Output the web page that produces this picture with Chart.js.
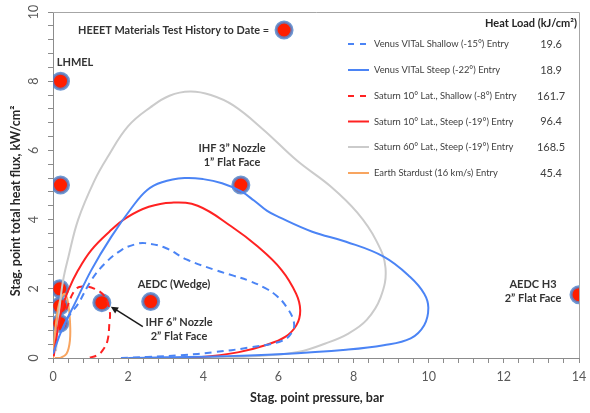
<!DOCTYPE html>
<html lang="en">
<head>
<meta charset="UTF-8" />
<title>HEEET Materials Test History</title>
<script src="https://cdn.jsdelivr.net/npm/chart.js"></script>
<style>
  html, body { margin: 0; padding: 0; background: #fff; }
  #wrap { width: 590px; height: 413px; }
</style>
</head>
<body>
<div id="wrap"><canvas id="chart" width="590" height="413"></canvas></div>
<script>
// trajectories, stag. point pressure (bar) vs total heat flux (kW/cm2)
const venusShallowX = [0.25, 0.41, 0.67, 1.02, 1.38, 1.82, 2.17, 2.45, 3.0, 3.55, 4.3, 4.8, 5.2, 5.65, 5.95, 6.2, 6.4, 6.38, 6.1, 5.2, 4.3, 3.4, 2.5, 1.8];
const venusShallowY = [0.8, 1.19, 1.57, 2.25, 2.73, 3.12, 3.28, 3.32, 3.18, 2.85, 2.55, 2.38, 2.24, 2.02, 1.8, 1.5, 1.09, 0.78, 0.5, 0.3, 0.17, 0.08, 0.03, 0.0];

const venusSteepX = [0.0, 0.23, 0.58, 1.02, 1.55, 2.1, 2.5, 2.9, 3.5, 4.0, 4.5, 5.0, 5.35, 5.7, 6.0, 6.9, 7.8, 8.8, 9.5, 9.88, 9.99, 9.88, 9.52, 8.8, 7.8, 6.0, 4.5, 3.0, 2.0];
const venusSteepY = [0.12, 0.8, 1.57, 2.54, 3.5, 4.35, 4.85, 5.08, 5.2, 5.17, 5.05, 4.82, 4.55, 4.25, 4.08, 3.65, 3.36, 2.93, 2.35, 1.86, 1.45, 0.95, 0.57, 0.37, 0.24, 0.11, 0.05, 0.02, 0.0];

const saturnShallowX = [0.35, 0.58, 0.78, 1.11, 1.38, 1.51, 1.5, 1.45, 1.32, 1.18, 0.93];
const saturnShallowY = [1.4, 1.96, 2.07, 2.0, 1.77, 1.35, 1.0, 0.5, 0.22, 0.08, 0.0];

const saturnSteepX = [0.02, 0.1, 0.23, 0.41, 0.67, 1.02, 1.5, 1.95, 2.55, 3.15, 3.85, 4.75, 5.45, 6.08, 6.47, 6.58, 6.48, 6.18, 5.65, 4.95, 4.25, 3.5, 2.9];
const saturnSteepY = [0.05, 0.65, 1.4, 1.96, 2.54, 3.12, 3.65, 4.05, 4.37, 4.49, 4.4, 3.8, 3.22, 2.55, 1.86, 1.38, 0.95, 0.61, 0.37, 0.17, 0.06, 0.01, 0.0];

const saturn60X = [0.08, 0.17, 0.27, 0.41, 0.67, 1.1, 1.45, 2.0, 2.6, 3.1, 3.65, 4.2, 4.8, 5.6, 6.5, 7.4, 8.1, 8.6, 8.85, 8.72, 8.35, 7.85, 7.25, 6.55, 5.65, 4.6, 3.4];
const saturn60Y = [0.2, 1.4, 2.25, 2.92, 4.0, 5.12, 5.8, 6.7, 7.25, 7.58, 7.7, 7.6, 7.3, 6.6, 5.7, 4.95, 4.2, 3.4, 2.6, 1.75, 1.1, 0.7, 0.42, 0.18, 0.07, 0.02, 0.0];

const stardustX = [0.0, 0.03, 0.07, 0.13, 0.22, 0.32, 0.4, 0.45, 0.45, 0.36, 0.2, 0.05];
const stardustY = [0.0, 0.4, 0.9, 1.4, 1.75, 1.85, 1.6, 1.1, 0.5, 0.12, 0.01, 0.0];

// HEEET test conditions to date
const testX = [0.2, 0.2, 0.18, 0.18, 0.18, 1.3, 2.6, 5.0, 14.0];
const testY = [8.0, 5.0, 2.0, 1.5, 1.0, 1.6, 1.63, 5.0, 1.83];
const keyMarkerX = [6.15];
const keyMarkerY = [9.48];

const seriesNames = [
  "Venus VITaL Shallow (-15°) Entry",
  "Venus VITaL Steep (-22°) Entry",
  "Saturn 10° Lat., Shallow (-8°) Entry",
  "Saturn 10° Lat., Steep (-19°) Entry",
  "Saturn 60° Lat., Steep (-19°) Entry",
  "Earth Stardust (16 km/s) Entry"
];
const heatLoads = ["19.6", "18.9", "161.7", "96.4", "168.5", "45.4"];

const xTickLabels = [0, 2, 4, 6, 8, 10, 12, 14];
const yTickLabels = [0, 2, 4, 6, 8, 10];

const BLUE = "#4b84f5";
const RED = "#ff2222";
const GRAY = "#cbcbcb";
const ORANGE = "#f8a560";
const FONT = "Lato, 'Open Sans', sans-serif";

function pts(xs, ys) {
  return xs.map((x, i) => ({ x: x, y: ys[i] }));
}

function curve(label, xs, ys, color, dashed) {
  return {
    label: label,
    data: pts(xs, ys),
    showLine: true,
    borderColor: color,
    backgroundColor: color,
    borderWidth: 2,
    borderDash: dashed ? [7, 5] : [],
    pointRadius: 0,
    tension: 0.4,
    fill: false,
  };
}

const dotStyle = {
  showLine: false,
  pointRadius: 8,
  pointBorderWidth: 3,
  pointBackgroundColor: "#ff1e00",
  pointBorderColor: "rgba(84,134,205,0.85)",
};

// text squeezed or stretched to a given span
function fitText(ctx, text, left, right, y, weight, maxSize) {
  let size = maxSize;
  ctx.font = weight + " " + size + "px " + FONT;
  const w = ctx.measureText(text).width;
  size = Math.min(maxSize, size * (right - left) / w);
  ctx.font = weight + " " + size.toFixed(2) + "px " + FONT;
  ctx.textAlign = "left";
  ctx.fillText(text, left, y);
}

// text, arrow, frame, tick labels and legend drawn over the plot
const overlay = {
  id: "overlay",
  afterDraw(chart) {
    const { ctx, chartArea: a, scales } = chart;
    const xs = scales.x, ys = scales.y;
    ctx.save();

    // frame
    ctx.strokeStyle = "#a6a6a6";
    ctx.lineWidth = 1;
    ctx.beginPath();
    ctx.moveTo(a.left, a.top + 0.5);
    ctx.lineTo(a.right + 0.5, a.top + 0.5);
    ctx.lineTo(a.right + 0.5, a.bottom);
    ctx.stroke();

    // tick labels (y ones are turned on their side)
    ctx.fillStyle = "#595959";
    ctx.font = "12.5px " + FONT;
    ctx.textAlign = "center";
    ctx.textBaseline = "middle";
    xTickLabels.forEach((v) => {
      ctx.fillText(String(v), xs.getPixelForValue(v), a.bottom + 19);
    });
    yTickLabels.forEach((v) => {
      ctx.save();
      ctx.translate(a.left - 19, ys.getPixelForValue(v));
      ctx.rotate(-Math.PI / 2);
      ctx.fillText(String(v), 0, 0);
      ctx.restore();
    });

    // axis titles
    ctx.fillStyle = "#262626";
    ctx.font = "bold 12.5px " + FONT;
    ctx.fillText("Stag. point pressure, bar", 317, 398);
    ctx.save();
    ctx.translate(16, 201);
    ctx.rotate(-Math.PI / 2);
    ctx.fillText("Stag. point total heat flux, kW/cm²", 0, 0);
    ctx.restore();

    // annotations
    ctx.fillStyle = "#333333";
    fitText(ctx, "HEEET Materials Test History to Date =", 78, 269, 30, "bold", 16);
    ctx.font = "bold 11px " + FONT;
    ctx.textAlign = "center";
    ctx.fillText("LHMEL", 75, 62);
    ctx.fillText("IHF 3\u201D Nozzle", 232, 148);
    ctx.fillText("1\u201D Flat Face", 232, 162);
    ctx.fillText("AEDC (Wedge)", 174, 284);
    ctx.fillText("IHF 6\u201D Nozzle", 179, 322);
    ctx.fillText("2\u201D Flat Face", 179, 336);
    ctx.fillText("AEDC H3", 533, 284);
    ctx.fillText("2\u201D Flat Face", 533, 298);

    // arrow to the IHF 6" point
    const tx = xs.getPixelForValue(testX[5]) + 9;
    const ty = ys.getPixelForValue(testY[5]) + 4;
    const fx = tx + 32, fy = ty + 20;
    ctx.strokeStyle = "#1a1a1a";
    ctx.fillStyle = "#1a1a1a";
    ctx.lineWidth = 1.5;
    ctx.beginPath();
    ctx.moveTo(fx, fy);
    ctx.lineTo(tx + 5, ty + 3);
    ctx.stroke();
    const ang = Math.atan2(ty - fy, tx - fx);
    ctx.beginPath();
    ctx.moveTo(tx, ty);
    ctx.lineTo(tx - 8 * Math.cos(ang - 0.45), ty - 8 * Math.sin(ang - 0.45));
    ctx.lineTo(tx - 8 * Math.cos(ang + 0.45), ty - 8 * Math.sin(ang + 0.45));
    ctx.closePath();
    ctx.fill();

    // legend with heat loads
    ctx.font = "bold 11px " + FONT;
    ctx.fillStyle = "#262626";
    ctx.textAlign = "right";
    ctx.fillText("Heat Load (kJ/cm²)", 577, 23);
    const rowY = [44, 70, 96, 121.5, 147, 173];
    chart.data.datasets.slice(0, seriesNames.length).forEach((ds, i) => {
      const y = rowY[i];
      ctx.strokeStyle = ds.borderColor;
      ctx.lineWidth = 2;
      ctx.setLineDash(ds.borderDash.length ? [6, 6] : []);
      ctx.beginPath();
      ctx.moveTo(348, y);
      ctx.lineTo(369, y);
      ctx.stroke();
      ctx.setLineDash([]);
      ctx.fillStyle = "#404040";
      ctx.font = "9.4px " + FONT;
      ctx.textAlign = "left";
      ctx.fillText(ds.label, 374, y);
      ctx.font = "11px " + FONT;
      ctx.textAlign = "center";
      ctx.fillText(heatLoads[i], 551, y);
    });
    ctx.restore();
  }
};

new Chart(document.getElementById("chart"), {
  type: "scatter",
  data: {
    datasets: [
      curve(seriesNames[0], venusShallowX, venusShallowY, BLUE, true),
      curve(seriesNames[1], venusSteepX, venusSteepY, BLUE, false),
      curve(seriesNames[2], saturnShallowX, saturnShallowY, RED, true),
      curve(seriesNames[3], saturnSteepX, saturnSteepY, RED, false),
      curve(seriesNames[4], saturn60X, saturn60Y, GRAY, false),
      curve(seriesNames[5], stardustX, stardustY, ORANGE, false),
      Object.assign({ label: "HEEET tests", data: pts(testX, testY) }, dotStyle),
      Object.assign({ label: "key", data: pts(keyMarkerX, keyMarkerY) }, dotStyle),
    ],
  },
  options: {
    responsive: false,
    animation: false,
    layout: { padding: { top: 12, right: 8, bottom: 0, left: 0 } },
    plugins: { legend: { display: false }, tooltip: { enabled: false } },
    scales: {
      x: {
        type: "linear",
        min: 0,
        max: 14,
        afterFit: (s) => { s.height = 55; },
        grid: { drawOnChartArea: false, tickLength: 5, color: "#8c8c8c" },
        border: { color: "#8c8c8c" },
        ticks: { stepSize: 0.4, autoSkip: false, maxRotation: 0, callback: () => "" },
      },
      y: {
        type: "linear",
        min: 0,
        max: 10,
        afterFit: (s) => { s.width = 53; },
        grid: { drawOnChartArea: false, tickLength: 5, color: "#8c8c8c" },
        border: { color: "#8c8c8c" },
        ticks: { stepSize: 0.4, autoSkip: false, callback: () => "" },
      },
    },
  },
  plugins: [overlay],
});
</script>
</body>
</html>
